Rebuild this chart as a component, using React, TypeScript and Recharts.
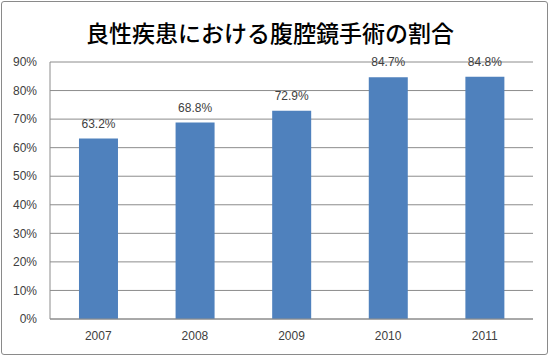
import React from "react";
import { BarChart, Bar, XAxis, YAxis, CartesianGrid, LabelList } from "recharts";

const years = ["2007", "2008", "2009", "2010", "2011"];
const ratios = [63.2, 68.8, 72.9, 84.7, 84.8];
const yTicks = [0, 10, 20, 30, 40, 50, 60, 70, 80, 90];
const title = "良性疾患における腹腔鏡手術の割合";

const data = years.map((y, i) => ({ year: y, value: ratios[i] }));

const tickFont = { fontFamily: "'Liberation Sans', 'DejaVu Sans', sans-serif", fontSize: 12, fill: "#404040" };

export default function App() {
  return (
    <div style={{ position: "absolute", left: 0, top: 0, width: 550, height: 357, background: "#fff" }}>
      <div
        style={{
          position: "absolute",
          left: 1,
          top: 1,
          width: 545,
          height: 352,
          border: "1px solid #8a8a8a",
          borderRadius: 3,
        }}
      />
      <div
        style={{
          position: "absolute",
          left: 0,
          top: 16,
          width: 540,
          textAlign: "center",
          fontFamily: "'Noto Sans CJK JP', sans-serif",
          fontSize: 23,
          fontWeight: 500,
          color: "#000",
          lineHeight: "32px",
          whiteSpace: "nowrap",
        }}
      >
        {title}
      </div>
      <div style={{ position: "absolute", left: 0, top: 0 }}>
        <BarChart width={550} height={357} data={data} margin={{ top: 62, right: 17, bottom: 8, left: 0 }} barCategoryGap="30%">
          <CartesianGrid vertical={false} stroke="#8c8c8c" />
          <XAxis
            dataKey="year"
            height={30}
            axisLine={{ stroke: "#8c8c8c" }}
            tickLine={false}
            tickSize={0}
            tickMargin={12}
            tick={tickFont}
          />
          <YAxis
            width={50}
            domain={[0, 90]}
            ticks={yTicks}
            interval={0}
            tickFormatter={(v: number) => `${v}%`}
            axisLine={{ stroke: "#8c8c8c" }}
            tickLine={false}
            tickSize={0}
            tickMargin={13}
            tick={tickFont}
          />
          <Bar dataKey="value" fill="#4F81BD" isAnimationActive={false}>
            <LabelList
              dataKey="value"
              position="top"
              offset={11}
              formatter={(v: number) => `${v.toFixed(1)}%`}
              style={{ fontFamily: "'Liberation Sans', 'DejaVu Sans', sans-serif", fontSize: 12, fill: "#404040" }}
            />
          </Bar>
        </BarChart>
      </div>
    </div>
  );
}
